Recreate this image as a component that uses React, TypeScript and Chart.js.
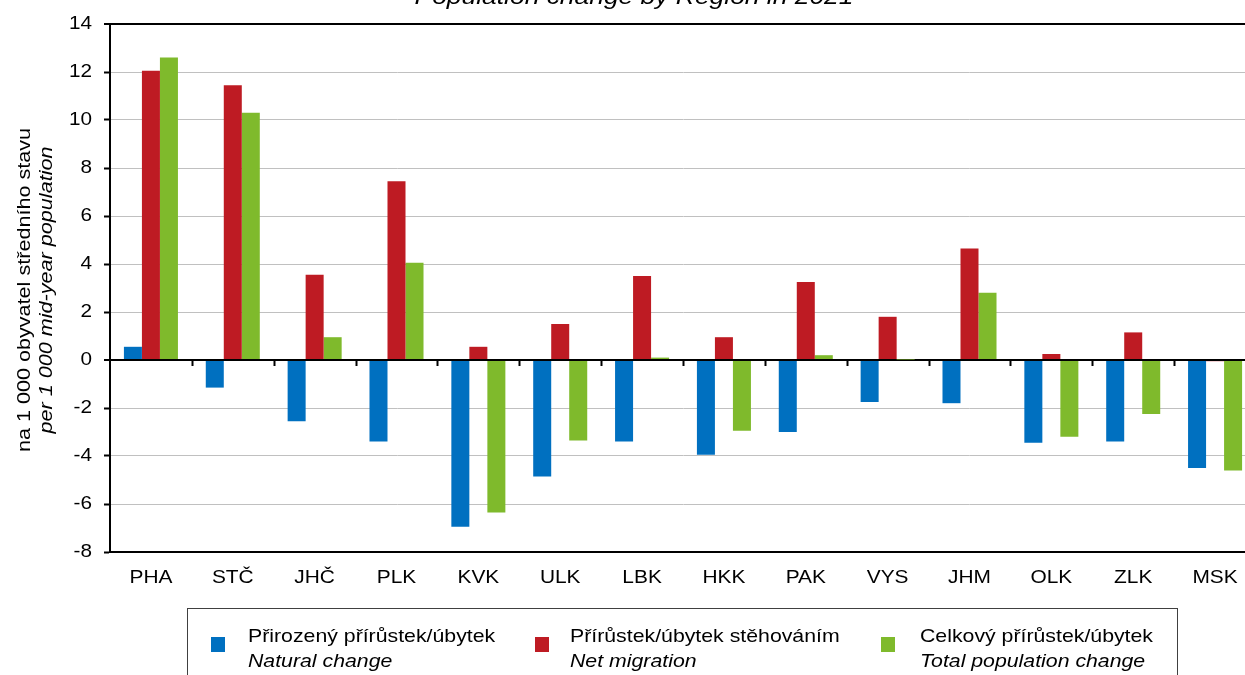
import React, { useEffect, useRef } from "react";
import { Chart, registerables } from "chart.js";

Chart.register(...registerables);

const categories = ["PHA", "STČ", "JHČ", "PLK", "KVK", "ULK", "LBK", "HKK", "PAK", "VYS", "JHM", "OLK", "ZLK", "MSK"];
const naturalChange = [0.55, -1.15, -2.55, -3.4, -6.95, -4.85, -3.4, -3.95, -3.0, -1.75, -1.8, -3.45, -3.4, -4.5];
const netMigration = [12.05, 11.45, 3.55, 7.45, 0.55, 1.5, 3.5, 0.95, 3.25, 1.8, 4.65, 0.25, 1.15, -0.05];
const totalChange = [12.6, 10.3, 0.95, 4.05, -6.35, -3.35, 0.1, -2.95, 0.2, 0.02, 2.8, -3.2, -2.25, -4.6];
const yTicksMin = -8;
const yTicksMax = 14;
const yStep = 2;

const seriesNames = [
  ["Přirozený přírůstek/úbytek", "Natural change"],
  ["Přírůstek/úbytek stěhováním", "Net migration"],
  ["Celkový přírůstek/úbytek", "Total population change"],
];
const colors = ["#0070C0", "#BE1B23", "#7FBA2C"];
const chartTitle = "Population change by Region in 2021";
const yTitle1 = "na 1 000 obyvatel středního stavu";
const yTitle2 = "per 1 000 mid-year population";

const FONT = "'Liberation Sans', Arial, sans-serif";

function stretchText(ctx: any, text: string, x: number, y: number, sx: number) {
  ctx.save();
  ctx.translate(x, y);
  ctx.scale(sx, 1);
  ctx.fillText(text, 0, 0);
  ctx.restore();
}

const extrasPlugin = {
  id: "extras",
  afterDraw(chart: any) {
    const { ctx, scales } = chart;
    const x = scales.x;
    const y = scales.y;
    const y0 = y.getPixelForValue(0);
    ctx.save();
    // category boundary ticks on zero line
    ctx.strokeStyle = "#000";
    ctx.lineWidth = 2;
    const n = categories.length;
    const w = (x.right - x.left) / n;
    for (let i = 1; i < n; i++) {
      const px = Math.round(x.left + i * w) + 0.5;
      ctx.beginPath();
      ctx.moveTo(px, y0);
      ctx.lineTo(px, y0 + 6);
      ctx.stroke();
    }
    ctx.fillStyle = "#000";
    // x labels
    ctx.font = `19px ${FONT}`;
    ctx.textAlign = "center";
    ctx.textBaseline = "middle";
    categories.forEach((c, i) => {
      stretchText(ctx, c, x.getPixelForValue(i), 578, 1.1);
    });
    // y labels
    ctx.textAlign = "right";
    for (let v = yTicksMin; v <= yTicksMax; v += yStep) {
      stretchText(ctx, String(v), 92, y.getPixelForValue(v), 1.09);
    }
    // title
    ctx.textAlign = "center";
    ctx.textBaseline = "alphabetic";
    ctx.font = `italic 22px ${FONT}`;
    stretchText(ctx, chartTitle, 634, 4, 1.2);
    // y axis title
    const cy = 290;
    ctx.translate(0, cy);
    ctx.rotate(-Math.PI / 2);
    ctx.textBaseline = "middle";
    ctx.font = `18px ${FONT}`;
    stretchText(ctx, yTitle1, 0, 25, 1.2);
    ctx.font = `italic 18px ${FONT}`;
    stretchText(ctx, yTitle2, 0, 47, 1.2);
    ctx.restore();
  },
};

export default function App() {
  const ref = useRef<HTMLCanvasElement | null>(null);
  useEffect(() => {
    if (!ref.current) return;
    const chart = new Chart(ref.current, {
      type: "bar",
      data: {
        labels: categories,
        datasets: [
          { label: seriesNames[0][0], data: naturalChange, backgroundColor: colors[0] },
          { label: seriesNames[1][0], data: netMigration, backgroundColor: colors[1] },
          { label: seriesNames[2][0], data: totalChange, backgroundColor: colors[2] },
        ],
      },
      options: {
        animation: false,
        responsive: false,
        maintainAspectRatio: false,
        devicePixelRatio: 1,
        layout: { padding: { top: 24, right: 24, bottom: 0, left: 0 } },
        datasets: { bar: { categoryPercentage: 0.66, barPercentage: 1.0 } },
        plugins: { legend: { display: false }, title: { display: false }, tooltip: { enabled: false } },
        scales: {
          x: {
            grid: { display: false, drawTicks: false },
            border: { display: true, color: "#000", width: 2 },
            ticks: { color: "rgba(0,0,0,0)", font: { family: FONT, size: 18 }, padding: 14, maxRotation: 0 },
            afterFit: (s: any) => { s.height = 123; },
          },
          y: {
            min: yTicksMin,
            max: yTicksMax,
            ticks: { stepSize: yStep, color: "rgba(0,0,0,0)", font: { family: FONT, size: 18 }, padding: 13 },
            grid: {
              color: (c: any) => (c.tick && (c.tick.value === 0 || c.tick.value === yTicksMax) ? "#000" : "#c0c0c0"),
              lineWidth: (c: any) => (c.tick && (c.tick.value === 0 || c.tick.value === yTicksMax) ? 2 : 1),
              tickColor: "#000",
              tickLength: 6,
              tickWidth: 2,
            },
            border: { display: true, color: "#000", width: 2 },
            afterFit: (s: any) => { s.width = 110; },
          },
        },
      },
      plugins: [extrasPlugin],
    });
    return () => chart.destroy();
  }, []);

  const swatchX = [211, 535, 881];
  const textX = [248, 570, 920];

  return (
    <div style={{ position: "fixed", left: 0, top: 0, width: 1245, height: 675, overflow: "hidden", background: "#fff" }}>
      <canvas ref={ref} width={1280} height={675} style={{ position: "absolute", left: 0, top: 0, width: 1280, height: 675 }} />
      <div style={{ position: "absolute", left: 187, top: 608, width: 991, height: 90, border: "1px solid #404040", boxSizing: "border-box" }} />
      {seriesNames.map((names, i) => (
        <React.Fragment key={i}>
          <div style={{ position: "absolute", left: swatchX[i], top: 637, width: 14, height: 15, background: colors[i] }} />
          <div style={{ position: "absolute", left: textX[i], top: 623, fontFamily: FONT, fontSize: 19, lineHeight: "25px", color: "#000", whiteSpace: "nowrap", transform: "scaleX(1.12)", transformOrigin: "left top" }}>
            <div>{names[0]}</div>
            <div style={{ fontStyle: "italic" }}>{names[1]}</div>
          </div>
        </React.Fragment>
      ))}
    </div>
  );
}
